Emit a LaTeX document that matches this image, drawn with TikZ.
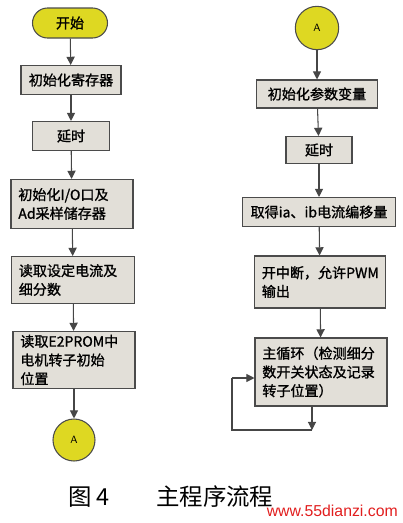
\documentclass[tikz,border=0pt]{standalone}
\usepackage{fontspec}
\newfontfamily\cjk{Noto Sans CJK SC}[FakeBold=1.2]
\newfontfamily\captionfont{Noto Sans CJK SC}
\newfontfamily\markfont{Liberation Sans}
\usepackage{xcolor}
\definecolor{boxfill}{RGB}{226,223,216}
\definecolor{boxline}{RGB}{75,75,75}
\definecolor{termfill}{RGB}{222,216,34}
\definecolor{lineclr}{RGB}{70,70,70}
\definecolor{markred}{RGB}{225,30,30}
\usetikzlibrary{positioning, arrows.meta, calc}

\begin{document}
\begin{tikzpicture}[
  x=0.03cm, y=-0.03cm,
  proc/.style={draw=boxline, fill=boxfill, line width=0.9pt,
               font=\cjk\fontsize{12}{16}\selectfont, inner xsep=0.22cm, inner ysep=2pt},
  term/.style={draw=boxline, fill=termfill, line width=0.9pt, rounded corners=0.45cm,
               minimum width=2.25cm, minimum height=0.9cm, font=\cjk\fontsize{12}{14}\selectfont},
  conn/.style={circle, draw=boxline, fill=termfill, line width=0.9pt,
               minimum size=1.3cm, inner sep=0pt, font=\sffamily\small},
  arr/.style={-{Triangle[length=7pt, width=7pt]}, line width=0.9pt, color=lineclr},
  lin/.style={line width=0.9pt, color=lineclr},
]
  \useasboundingbox (0,0) rectangle (403,523);

  % Left column
  \node[term] (start) at (70,23) {开始};
  \node[proc, minimum width=3.0cm, minimum height=0.87cm, align=center] (initreg) at (71,80) {初始化寄存器};
  \node[proc, minimum width=2.31cm, minimum height=0.87cm, align=center] (delayA) at (71,136) {延时};
  \node[proc, text width=3.22cm, minimum height=1.47cm, align=left] (initio) at (72,204) {初始化I/O口及\\Ad采样储存器};
  \node[proc, text width=3.25cm, minimum height=1.41cm, align=left] (readcur) at (73,280) {读取设定电流及\\细分数};
  \node[proc, text width=3.22cm, minimum height=1.71cm, align=left] (readpos) at (74,360) {读取E2PROM中\\电机转子初始\\位置};
  \node[conn, minimum size=1.26cm] (outA) at (74,440) {A};

  % Right column
  \node[conn] (inA) at (317,28) {A};
  \node[proc, minimum width=3.63cm, minimum height=0.84cm, align=center] (initvar) at (317,94) {初始化参数变量};
  \node[proc, minimum width=1.98cm, minimum height=0.81cm, align=center] (delayB) at (319,150) {延时};
  \node[proc, minimum width=4.59cm, minimum height=0.87cm, inner xsep=1pt, align=center] (offset) at (319,212) {取得ia、ib电流编移量};
  \node[proc, text width=3.49cm, minimum height=1.56cm, align=left] (pwm) at (320,282) {开中断，允许PWM\\输出};
  \node[proc, text width=3.52cm, minimum height=2.04cm, align=left] (mainloop) at (321,372) {主循环（检测细分\\数开关状态及记录\\转子位置）};

  % Loop corners
  \coordinate (c1) at (312,430);
  \coordinate (c2) at (232,430);
  \coordinate (c3) at (232,378);

  % Arrows
  \draw[arr] (start) -- (initreg);
  \draw[arr] (initreg) -- (delayA);
  \draw[arr] (delayA) -- (initio);
  \draw[arr] (initio) -- (readcur);
  \draw[arr] (readcur) -- (readpos);
  \draw[arr] (readpos) -- (outA);
  \draw[arr] (inA) -- (initvar);
  \draw[arr] (initvar) -- (delayB);
  \draw[arr] (delayB) -- (offset);
  \draw[arr] (offset) -- (pwm);
  \draw[arr] (pwm) -- (mainloop);
  \draw[arr] (c1 |- mainloop.south) -- (c1);
  \draw[lin] (c1) -- (c2) -- (c3);
  \draw[arr] (c3) -- (c3 -| mainloop.west);

  % Caption
  \node[font=\captionfont\fontsize{20}{22}\selectfont, anchor=west, inner sep=0pt] (fignum) at (68,497) {图 4};
  \node[font=\captionfont\fontsize{20}{22}\selectfont, anchor=west, inner sep=0pt] (figtitle) at (156,497) {主程序流程};
  \node[font=\markfont\fontsize{13.5}{15}\selectfont, text=markred, anchor=east, inner sep=0pt] (watermark) at (398,511) {www.55dianzi.com};
\end{tikzpicture}
\end{document}
